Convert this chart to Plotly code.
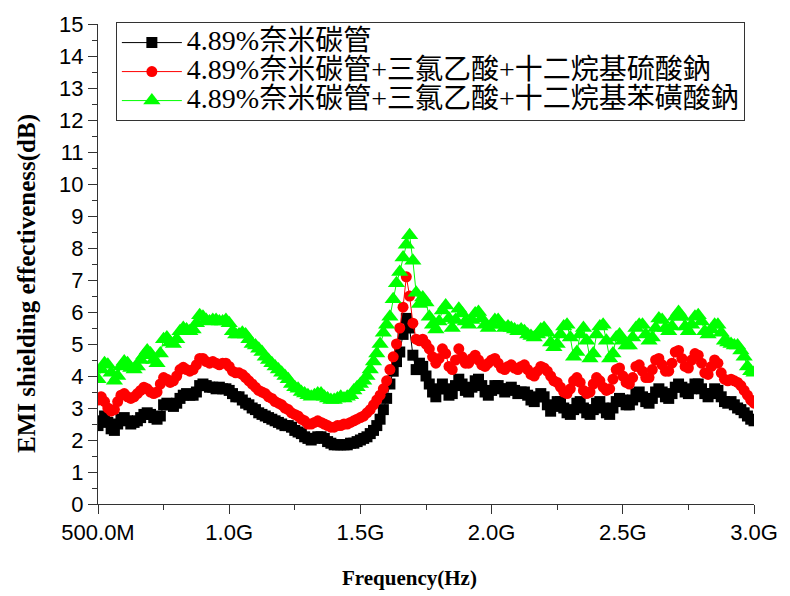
import plotly.graph_objects as go

# Sweep: 201 points, 0.5 GHz to 3.0 GHz
f_start_ghz = 0.5
f_step_ghz = 0.0125
n_points = 201
freq_ghz = [round(f_start_ghz + f_step_ghz * i, 4) for i in range(n_points)]

tick_vals = [0.5, 1.0, 1.5, 2.0, 2.5, 3.0]
tick_text = ["500.0M", "1.0G", "1.5G", "2.0G", "2.5G", "3.0G"]

names = [
    "4.89%奈米碳管",
    "4.89%奈米碳管+三氯乙酸+十二烷基硫酸鈉",
    "4.89%奈米碳管+三氯乙酸+十二烷基苯磺酸鈉",
]

x_title = "Frequency(Hz)"
y_title = "EMI shielding effectiveness(dB)"

se_cnt = [
    2.45, 2.6, 2.75, 2.55, 2.35, 2.3, 2.5, 2.65, 2.7, 2.6,
    2.5, 2.55, 2.6, 2.7, 2.8, 2.85, 2.8, 2.7, 2.65, 2.75,
    3.1, 3.15, 3.1, 3.05, 3.15, 3.3, 3.4, 3.45, 3.4, 3.4,
    3.5, 3.7, 3.75, 3.7, 3.65, 3.65, 3.6, 3.65, 3.6, 3.6,
    3.55, 3.45, 3.35, 3.35, 3.25, 3.15, 3.1, 3.0, 2.95, 2.85,
    2.8, 2.75, 2.7, 2.65, 2.6, 2.55, 2.5, 2.45, 2.45, 2.4,
    2.3, 2.25, 2.2, 2.1, 2.05, 2.0, 2.05, 2.1, 2.1, 2.05,
    1.95, 1.9, 1.85, 1.85, 1.85, 1.85, 1.85, 1.9, 1.9, 1.95,
    2.0, 2.05, 2.1, 2.2, 2.3, 2.45, 2.65, 2.95, 3.3, 3.75,
    4.15, 4.45, 4.75, 5.3, 5.8, 5.5, 4.65, 4.2, 4.4, 4.3,
    4.0, 3.75, 3.5, 3.35, 3.6, 3.75, 3.6, 3.4, 3.45, 3.7,
    3.9, 3.75, 3.55, 3.5, 3.65, 3.85, 3.9, 3.7, 3.5, 3.4,
    3.55, 3.7, 3.7, 3.6, 3.5, 3.6, 3.65, 3.55, 3.45, 3.5,
    3.5, 3.4, 3.25, 3.2, 3.35, 3.45, 3.35, 3.1, 2.9, 3.05,
    3.2, 3.2, 3.0, 2.85, 2.8, 2.95, 3.15, 3.2, 3.0, 2.85,
    2.8, 2.95, 3.15, 3.2, 3.0, 2.85, 2.8, 3.0, 3.2, 3.3,
    3.25, 3.1, 3.1, 3.25, 3.45, 3.5, 3.35, 3.2, 3.15, 3.3,
    3.5, 3.6, 3.5, 3.35, 3.3, 3.45, 3.65, 3.75, 3.65, 3.5,
    3.45, 3.6, 3.75, 3.75, 3.6, 3.45, 3.35, 3.45, 3.6, 3.55,
    3.35, 3.2, 3.15, 3.2, 3.1, 3.0, 2.95, 2.85, 2.75, 2.65,
    2.6,
]

se_cnt_sds = [
    3.25, 3.35, 3.2, 3.0, 2.9, 2.95, 3.2, 3.4, 3.45, 3.35,
    3.3, 3.35, 3.45, 3.55, 3.65, 3.6, 3.5, 3.45, 3.5, 3.75,
    3.95, 3.9, 3.8, 3.85, 4.0, 4.2, 4.27, 4.2, 4.15, 4.2,
    4.35, 4.55, 4.55, 4.45, 4.4, 4.45, 4.4, 4.35, 4.4, 4.4,
    4.3, 4.15, 4.1, 4.1, 4.05, 3.95, 3.85, 3.75, 3.65, 3.55,
    3.5, 3.45, 3.35, 3.3, 3.2, 3.15, 3.1, 3.0, 2.95, 2.85,
    2.8, 2.75, 2.65, 2.6, 2.5, 2.5, 2.55, 2.6, 2.55, 2.5,
    2.45, 2.4, 2.4, 2.45, 2.45, 2.5, 2.5, 2.55, 2.6, 2.65,
    2.7, 2.75, 2.85, 2.95, 3.1, 3.25, 3.4, 3.6, 3.85, 4.2,
    4.6, 5.0, 5.5, 6.15, 7.1, 6.5, 5.65, 5.15, 5.1, 5.15,
    5.0, 4.85, 4.6, 4.4, 4.55, 4.85, 4.7, 4.3, 4.2, 4.5,
    4.85, 4.6, 4.4, 4.4, 4.55, 4.65, 4.5, 4.35, 4.3, 4.4,
    4.5, 4.55, 4.4, 4.25, 4.2, 4.3, 4.35, 4.25, 4.2, 4.3,
    4.35, 4.2, 4.05, 4.0, 4.15, 4.3, 4.25, 4.15, 4.0, 3.85,
    3.8, 3.65, 3.5, 3.45, 3.6, 3.85, 3.95, 3.8, 3.55, 3.45,
    3.5, 3.75, 3.95, 3.85, 3.65, 3.55, 3.6, 3.9, 4.2, 4.25,
    4.0, 3.8, 3.75, 3.95, 4.3, 4.35, 4.15, 3.95, 3.95, 4.2,
    4.5, 4.55, 4.35, 4.15, 4.15, 4.4, 4.75, 4.8, 4.55, 4.3,
    4.25, 4.5, 4.7, 4.65, 4.4, 4.1, 4.05, 4.3, 4.5, 4.4,
    4.1, 3.9, 3.85, 3.9, 3.85, 3.8, 3.7, 3.55, 3.4, 3.25,
    3.15,
]

se_cnt_sdbs = [
    3.9, 4.2, 4.4, 4.35, 4.1, 3.85, 4.0, 4.3, 4.45, 4.4,
    4.25, 4.2, 4.3, 4.5, 4.65, 4.8, 4.7, 4.5, 4.4, 4.7,
    5.15, 5.2, 5.05, 5.0, 5.15, 5.4, 5.5, 5.45, 5.4, 5.45,
    5.65, 5.9, 5.85, 5.75, 5.7, 5.75, 5.75, 5.7, 5.7, 5.75,
    5.65, 5.4, 5.3, 5.3, 5.35, 5.3, 5.15, 5.0, 4.95, 4.85,
    4.75, 4.6, 4.5, 4.4, 4.3, 4.2, 4.1, 4.0, 3.9, 3.75,
    3.65, 3.6, 3.5, 3.45, 3.4, 3.35, 3.4, 3.45, 3.45, 3.35,
    3.3, 3.25, 3.25, 3.3, 3.35, 3.3, 3.35, 3.4, 3.55, 3.65,
    3.75, 3.85, 4.0, 4.2, 4.45, 4.7, 5.0, 5.35, 5.6, 5.85,
    6.4, 6.9, 7.25, 7.7, 8.1, 8.4, 7.6, 6.6, 6.25, 6.45,
    6.3, 5.85, 5.6, 5.45, 5.7, 6.05, 6.2, 5.8, 5.5, 5.75,
    6.1, 5.95, 5.7, 5.6, 5.75, 5.95, 6.0, 5.8, 5.6, 5.5,
    5.6, 5.75, 5.75, 5.6, 5.5, 5.55, 5.5, 5.45, 5.4, 5.45,
    5.4, 5.3, 5.25, 5.2, 5.3, 5.45, 5.5, 5.35, 5.05, 4.9,
    5.0, 5.3, 5.55, 5.6, 5.2, 4.6, 4.75, 5.3, 5.5, 5.1,
    4.55, 4.7, 5.3, 5.55, 5.6, 5.1, 4.55, 4.7, 5.2, 5.3,
    5.1, 4.95, 4.95, 5.2, 5.5, 5.6, 5.6, 5.3, 5.1, 5.2,
    5.5, 5.8, 5.75, 5.5, 5.4, 5.55, 5.85, 6.0, 5.85, 5.55,
    5.4, 5.6, 5.85, 5.9, 5.7, 5.4, 5.3, 5.45, 5.6, 5.6,
    5.35, 5.1, 5.05, 5.0, 4.95, 4.95, 4.8, 4.6, 4.3, 4.15,
    4.1,
]

series = [se_cnt, se_cnt_sds, se_cnt_sdbs]
colors = ["#000000", "#ff0000", "#00ff00"]
symbols = ["square", "circle", "triangle-up"]
sizes = [11, 11, 15]

legend_style = "font-size:28px;font-family:Liberation Serif,Noto Sans CJK TC"

fig = go.Figure()
for name, ys, col, sym, sz in zip(names, series, colors, symbols, sizes):
    fig.add_trace(go.Scatter(
        x=freq_ghz, y=ys, name='<span style="' + legend_style + '">' + name + '</span>',
        mode="lines+markers",
        line=dict(color=col, width=1),
        marker=dict(color=col, symbol=sym, size=sz, line=dict(width=0)),
    ))

axis_col = "#333333"
fig.update_layout(
    width=790, height=596,
    margin=dict(l=98, r=31, t=21, b=92),
    paper_bgcolor="white", plot_bgcolor="white",
    showlegend=True,
    legend=dict(
        x=(116 - 98) / 661, y=1.004, xanchor="left", yanchor="top",
        bordercolor=axis_col, borderwidth=1, bgcolor="white",
        font=dict(family="Liberation Serif, Noto Sans CJK TC", size=20, color="black"),
        itemwidth=60, tracegroupgap=0,
    ),
    xaxis=dict(
        range=[0.5, 3.0], tickvals=tick_vals, ticktext=tick_text,
        showline=True, linecolor=axis_col, linewidth=1, mirror=False,
        ticks="outside", ticklen=9, tickcolor=axis_col, tickwidth=1,
        minor=dict(dtick=0.25, tick0=0.5, ticks="outside", ticklen=5, tickcolor=axis_col, showgrid=False),
        showgrid=False, zeroline=False,
        tickfont=dict(family="Liberation Sans", size=22, color="black"),
    ),
    yaxis=dict(
        range=[0, 15], dtick=1, tick0=0,
        showline=True, linecolor=axis_col, linewidth=1, mirror=False,
        ticks="outside", ticklen=9, tickcolor=axis_col, tickwidth=1,
        minor=dict(dtick=0.5, tick0=0, ticks="outside", ticklen=5, tickcolor=axis_col, showgrid=False),
        showgrid=False, zeroline=False,
        tickfont=dict(family="Liberation Sans", size=22, color="black"),
    ),
    annotations=[
        dict(text="<b>" + x_title + "</b>", xref="paper", yref="paper",
             x=(412 - 98) / 661, y=-(578 - 504) / 483, xanchor="center", yanchor="middle",
             showarrow=False, font=dict(family="Liberation Serif", size=21, color="black")),
        dict(text="<b>" + y_title + "</b>", xref="paper", yref="paper",
             x=-(98 - 27) / 661, y=(504 - 282) / 483, xanchor="center", yanchor="middle",
             textangle=-90, showarrow=False,
             font=dict(family="Liberation Serif", size=25, color="black")),
    ],
)

fig.write_html("out.html")
